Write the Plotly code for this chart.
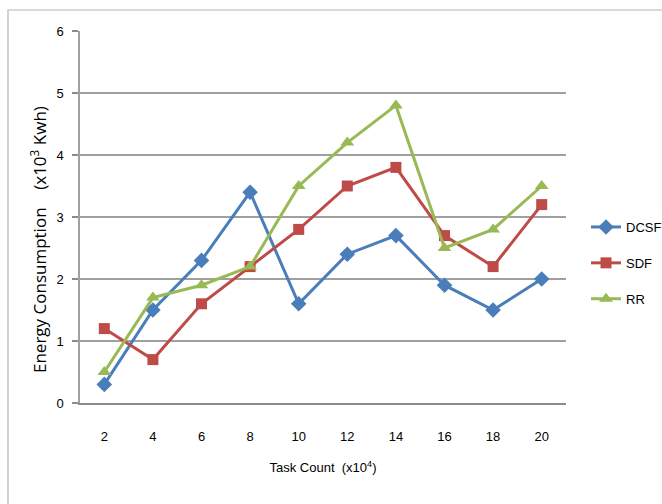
import plotly.graph_objects as go

task_counts = ["2", "4", "6", "8", "10", "12", "14", "16", "18", "20"]
dcsf = [0.3, 1.5, 2.3, 3.4, 1.6, 2.4, 2.7, 1.9, 1.5, 2.0]
sdf = [1.2, 0.7, 1.6, 2.2, 2.8, 3.5, 3.8, 2.7, 2.2, 3.2]
rr = [0.5, 1.7, 1.9, 2.2, 3.5, 4.2, 4.8, 2.5, 2.8, 3.5]

W, H = 662, 504
L, R, T, B = 80, 96, 31, 101
pw, ph = W - L - R, H - T - B

fig = go.Figure()
series = [
    ("DCSF", dcsf, "#4a7ebb", "diamond", 12),
    ("SDF", sdf, "#be4b48", "square", 11),
    ("RR", rr, "#98b954", "triangle-up", 12),
]
for name, vals, col, sym, sz in series:
    fig.add_trace(go.Scatter(
        x=task_counts, y=vals, name=name, mode="lines+markers",
        line=dict(color=col, width=3),
        marker=dict(symbol=sym, size=sz, color=col),
        legendgroup=name,
    ))

font = "Liberation Sans, Arial, sans-serif"
fig.update_layout(
    width=W, height=H,
    margin=dict(l=L, r=R, t=T, b=B, autoexpand=False),
    paper_bgcolor="white", plot_bgcolor="white",
    font=dict(family=font, size=12, color="#000000"),
    showlegend=True,
    legend=dict(x=586 / W, y=1 - 212 / H, xref="container", yref="container",
                xanchor="left", yanchor="top",
                tracegroupgap=16, font=dict(size=13), itemwidth=30,
                bgcolor="rgba(0,0,0,0)"),
    xaxis=dict(type="category", showgrid=False, showline=True, linecolor="#8c8c8c",
               linewidth=1.5, ticks="", ticklabelstandoff=21, tickfont=dict(size=13),
               title=dict(text="Task Count  (x10<sup>4</sup>)", font=dict(size=13), standoff=20),
               range=[-0.5, 9.5]),
    yaxis=dict(range=[0, 6], dtick=1, showgrid=True, gridcolor="#a0a0a0", gridwidth=1.5,
               showline=True, linecolor="#a0a0a0", linewidth=1.5, ticks="outside",
               ticklen=6, tickcolor="#8c8c8c", tickwidth=1.5, zeroline=False,
               ticklabelstandoff=6, tickfont=dict(size=13)),
    annotations=[dict(text="Energy Consumption    (x10<sup>3</sup> Kwh)", textangle=-90,
                      xref="paper", yref="paper", x=(39 - L) / pw, y=(403 - 240) / ph,
                      xanchor="center", yanchor="middle", showarrow=False,
                      font=dict(size=17, family="Open Sans, sans-serif", color="#000000"))],
    shapes=[dict(type="rect", xref="paper", yref="paper",
                 x0=(8 - L) / pw, x1=(680 - L) / pw,
                 y0=(403 - 520) / ph, y1=(403 - 10) / ph,
                 line=dict(color="#b4b4b4", width=1.2), fillcolor="rgba(0,0,0,0)", layer="below")],
)
fig.write_html("out.html", config={"displayModeBar": False},
               post_script="document.body.style.margin='0';document.body.style.overflow='hidden';")
